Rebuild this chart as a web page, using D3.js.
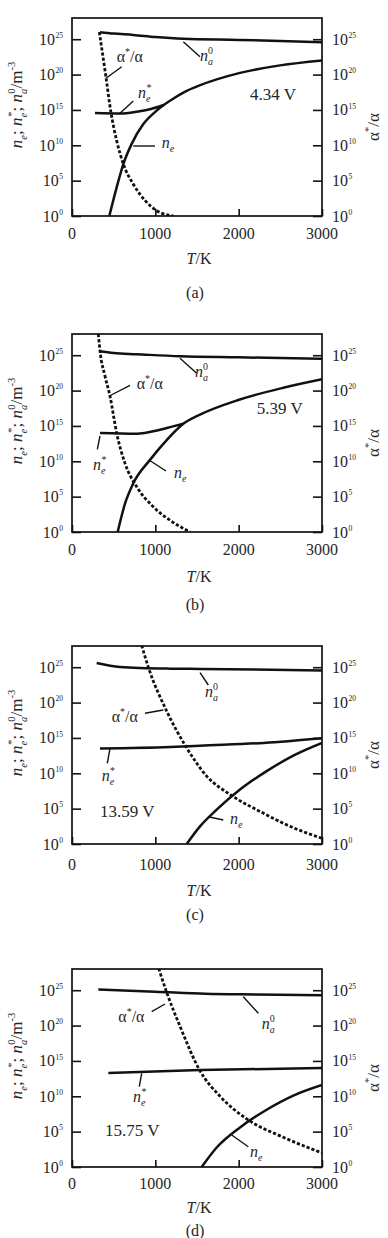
<!DOCTYPE html>
<html>
<head>
<meta charset="utf-8">
<title>n_e, n_e*, n_a0 and alpha*/alpha vs T</title>
<script src="https://cdn.jsdelivr.net/npm/d3@7"></script>
<style>
  html, body { margin: 0; padding: 0; background: #fff; }
  svg { display: block; }
  svg text { font-family: "Liberation Serif", "DejaVu Serif", serif; }
</style>
</head>
<body>
<svg id="chart" width="388" height="1238" font-family="Liberation Serif, DejaVu Serif, serif"></svg>
<script>
// ---- data: T in K, second value is log10 of the quantity ----
var tempTicks = [0, 1000, 2000, 3000];
var decadeTicks = [0, 5, 10, 15, 20, 25];

// (a) 4.34 V
var naA     = [[336, 26.0], [500, 25.8], [736, 25.6], [1000, 25.3], [1336, 25.05], [2000, 24.9], [2500, 24.75], [3000, 24.57]];
var nstarA  = [[276, 14.57], [576, 14.5], [776, 14.75], [936, 15.1], [1100, 15.7]];
var neA     = [[448, 0], [536, 4.05], [616, 7.35], [716, 10.2], [856, 13.0], [1016, 14.9], [1100, 15.7], [1176, 16.3], [1376, 17.7], [1516, 18.4], [2004, 20.2], [2496, 21.3], [3000, 22.0]];
var alphaA  = [[328, 26.0], [408, 19.6], [464, 14.9], [536, 10.65], [616, 7.35], [736, 4.5], [876, 2.2], [1016, 0.75], [1216, 0]];

// (b) 5.39 V
var naB     = [[328, 25.55], [500, 25.3], [776, 25.14], [1296, 24.85], [2000, 24.7], [3000, 24.5]];
var nstarB  = [[336, 14.0], [776, 13.9], [1056, 14.47], [1200, 14.9], [1336, 15.3]];
var neB     = [[548, 0], [636, 4.0], [736, 6.9], [936, 10.2], [1136, 13.0], [1336, 15.3], [1536, 16.6], [2004, 18.7], [2536, 20.4], [3000, 21.6]];
var alphaB  = [[316, 28.0], [336, 25.6], [396, 22.05], [456, 19.2], [536, 14.0], [636, 9.7], [776, 6.4], [976, 3.56], [1176, 1.66], [1416, 0]];

// (c) 13.59 V
var naC     = [[296, 25.6], [576, 25.04], [1176, 24.8], [1536, 24.76], [3000, 24.55]];
var nstarC  = [[336, 13.5], [1176, 13.7], [1536, 13.9], [2300, 14.3], [3000, 14.96]];
var neC     = [[1376, 0], [1536, 2.5], [1736, 4.86], [2016, 7.7], [2336, 10.3], [2656, 12.5], [3000, 14.3]];
var alphaC  = [[836, 28.1], [916, 25.0], [1136, 18.8], [1376, 13.6], [1616, 9.6], [1896, 7.0], [2256, 4.6], [2616, 2.5], [3000, 0.8]];

// (d) 15.75 V
var naD     = [[316, 25.1], [1000, 24.8], [1600, 24.5], [2200, 24.4], [3000, 24.3]];
var nstarD  = [[436, 13.3], [1536, 13.7], [3000, 14.0]];
var neD     = [[1556, 0], [1736, 2.76], [2016, 5.6], [2336, 8.1], [2656, 10.1], [3000, 11.6]];
var alphaD  = [[1040, 28.1], [1136, 24.7], [1296, 19.9], [1536, 13.6], [1776, 10.0], [2096, 6.8], [2536, 4.2], [3000, 2.0]];

// ---- layout ----
var LEFT = 72, W = 250, H = 198;
var INK = "#111", TXT = "#262626";

var panels = [
  { top: 18,  tag: "(a)", volts: "4.34 V",  na: naA, nstar: nstarA, ne: neA, alpha: alphaA,
    tickDy: 17, titleDy: 42, tagDy: 76,
    lab: { alpha: [44.7, 43.7], alphaL: [49.7, 48.7, 34, 60.3],
           nstar: [66, 79.7],   nstarL: [61.3, 83, 48, 95.3],
           ne: [89.7, 130],     neL: [61.3, 128, 83, 128],
           na: [128, 42.7],     naL: [111.3, 23.7, 128, 38.7],
           volts: [178, 82] } },
  { top: 334, tag: "(b)", volts: "5.39 V",  na: naB, nstar: nstarB, ne: neB, alpha: alphaB,
    tickDy: 17, titleDy: 44, tagDy: 72,
    lab: { alpha: [64.7, 55], alphaL: [58, 51.3, 37.3, 62],
           nstar: [21, 136],    nstarL: [28, 102, 25.3, 115.3],
           ne: [102, 144],      neL: [77, 126, 94, 137],
           na: [123, 42.7],     naL: [108, 24.3, 124.7, 39.3],
           volts: [184.7, 80] } },
  { top: 646, tag: "(c)", volts: "13.59 V", na: naC, nstar: nstarC, ne: neC, alpha: alphaC,
    tickDy: 20, titleDy: 46, tagDy: 70,
    lab: { alpha: [39.7, 75.7], alphaL: [73, 67.3, 91.3, 64],
           nstar: [29.7, 135],  nstarL: [38, 102.3, 35.3, 117.3],
           ne: [158, 178],      neL: [136.3, 170.7, 151.3, 174],
           na: [133, 51],       naL: [128, 26.7, 136.3, 39],
           volts: [28, 170.7] } },
  { top: 969, tag: "(d)", volts: "15.75 V", na: naD, nstar: nstarD, ne: neD, alpha: alphaD,
    tickDy: 16, titleDy: 40, tagDy: 63,
    lab: { alpha: [46.3, 52.7], alphaL: [79.7, 42.7, 93, 35],
           nstar: [61, 133],    nstarL: [69.7, 104.3, 67.3, 117.7],
           ne: [178, 187.7],    neL: [159.7, 166, 176.3, 177.7],
           na: [189.7, 60],     naL: [171.3, 27.7, 186.3, 44.3],
           volts: [33, 166.7] } }
];

var x = d3.scaleLinear().domain([0, 3000]).range([0, W]);
var y = d3.scaleLog().domain([1, 1e28]).range([H, 0]);

var line = d3.line()
  .x(function(d) { return x(d[0]); })
  .y(function(d) { return y(Math.pow(10, d[1])); })
  .curve(d3.curveMonotoneX);

var svg = d3.select("#chart");

// writes a run of tspans; parts: [text, kind, dx]
// kind: "" plain, "i" italic, "sub"/"isub" subscript, "sup" superscript, "tsup" small tick exponent
function rich(sel, parts, size) {
  var off = 0;
  parts.forEach(function(p) {
    var kind = p[1] || "";
    var target = 0, fs = size;
    if (kind.indexOf("sub") >= 0) { target = size * 0.28; fs = size * 0.62; }
    if (kind === "sup") { target = -size * 0.42; fs = size * 0.62; }
    if (kind === "tsup") { target = -size * 0.42; fs = size * 0.47; }
    var t = sel.append("tspan")
      .attr("dy", target - off)
      .attr("font-size", fs)
      .text(p[0]);
    if (kind.charAt(0) === "i") t.attr("font-style", "italic");
    if (p[2] != null) t.attr("dx", p[2]);
    off = target;
  });
}

panels.forEach(function(P) {
  var g = svg.append("g").attr("transform", "translate(" + LEFT + "," + P.top + ")");
  var clipId = "clip" + P.tag.charAt(1);
  g.append("clipPath").attr("id", clipId)
    .append("rect").attr("width", W).attr("height", H);

  // inward ticks
  var tv = decadeTicks.map(function(e) { return Math.pow(10, e); });
  var la = g.append("g").call(d3.axisLeft(y).tickValues(tv).tickSize(-9).tickFormat(""));
  var ra = g.append("g").attr("transform", "translate(" + W + ",0)")
    .call(d3.axisRight(y).tickValues(tv).tickSize(-9).tickFormat(""));
  var ba = g.append("g").attr("transform", "translate(0," + H + ")")
    .call(d3.axisBottom(x).tickValues(tempTicks).tickSize(-7).tickFormat(""));
  [la, ra, ba].forEach(function(a) {
    a.select(".domain").remove();
    a.selectAll("line").attr("stroke", INK).attr("stroke-width", 1.6);
  });

  // curves
  var curves = g.append("g").attr("clip-path", "url(#" + clipId + ")")
    .attr("fill", "none").attr("stroke", INK);
  curves.append("path").attr("d", line(P.na)).attr("stroke-width", 2.5);
  curves.append("path").attr("d", line(P.nstar)).attr("stroke-width", 2.5);
  curves.append("path").attr("d", line(P.ne)).attr("stroke-width", 2.5);
  curves.append("path").attr("d", line(P.alpha)).attr("stroke-width", 2.8)
    .attr("stroke-dasharray", "3.2,2");

  // frame
  g.append("rect").attr("width", W).attr("height", H)
    .attr("fill", "none").attr("stroke", INK).attr("stroke-width", 1.7);

  // tick labels
  decadeTicks.forEach(function(e) {
    var yy = y(Math.pow(10, e));
    var tl = g.append("text").attr("x", -9).attr("y", yy + 5.5)
      .attr("text-anchor", "end").attr("fill", TXT).attr("font-size", 16);
    rich(tl, [["10", ""], [String(e), "tsup", 0.5]], 16);
    var tr = g.append("text").attr("x", W + 10).attr("y", yy + 5.5)
      .attr("fill", TXT).attr("font-size", 16);
    rich(tr, [["10", ""], [String(e), "tsup", 0.5]], 16);
  });
  tempTicks.forEach(function(t) {
    g.append("text").attr("x", x(t)).attr("y", H + P.tickDy + 5.5)
      .attr("text-anchor", "middle").attr("fill", TXT).attr("font-size", 16)
      .text(t);
  });

  // axis titles
  var tx = g.append("text").attr("x", W / 2 + 2).attr("y", H + P.titleDy + 5.5)
    .attr("text-anchor", "middle").attr("fill", TXT).attr("font-size", 16);
  rich(tx, [["T", "i"], ["/K", ""]], 16);

  var tl = g.append("text")
    .attr("transform", "translate(" + (17 - LEFT + 5) + "," + (H / 2 - 12) + ") rotate(-90)")
    .attr("text-anchor", "middle").attr("fill", TXT).attr("font-size", 17);
  rich(tl, [["n", "i"], ["e", "isub"], ["; ", ""], ["n", "i"], ["e", "isub"], ["*", "sup", -4],
            ["; ", ""], ["n", "i"], ["a", "isub"], ["0", "sup", -5], ["/m", ""], ["-3", "sup"]], 17);

  var tr2 = g.append("text")
    .attr("transform", "translate(" + (374 - LEFT + 5) + "," + (H / 2 + 10) + ") rotate(-90)")
    .attr("text-anchor", "middle").attr("fill", TXT).attr("font-size", 17);
  rich(tr2, [["α", ""], ["*", "sup"], ["/α", ""]], 17);

  g.append("text").attr("x", W / 2 - 2).attr("y", H + P.tagDy + 5.5)
    .attr("text-anchor", "middle").attr("fill", TXT).attr("font-size", 16)
    .text(P.tag);

  // curve annotations
  var L = P.lab;
  [L.alphaL, L.nstarL, L.neL, L.naL].forEach(function(s) {
    g.append("line").attr("x1", s[0]).attr("y1", s[1]).attr("x2", s[2]).attr("y2", s[3])
      .attr("stroke", INK).attr("stroke-width", 1.4);
  });
  var a1 = g.append("text").attr("x", L.alpha[0]).attr("y", L.alpha[1]).attr("fill", TXT).attr("font-size", 16);
  rich(a1, [["α", ""], ["*", "sup"], ["/α", ""]], 16);
  var a2 = g.append("text").attr("x", L.nstar[0]).attr("y", L.nstar[1]).attr("fill", TXT).attr("font-size", 16);
  rich(a2, [["n", "i"], ["e", "isub"], ["*", "sup", -4]], 16);
  var a3 = g.append("text").attr("x", L.ne[0]).attr("y", L.ne[1]).attr("fill", TXT).attr("font-size", 16);
  rich(a3, [["n", "i"], ["e", "isub"]], 16);
  var a4 = g.append("text").attr("x", L.na[0]).attr("y", L.na[1]).attr("fill", TXT).attr("font-size", 16);
  rich(a4, [["n", "i"], ["a", "isub"], ["0", "sup", -5]], 16);
  g.append("text").attr("x", L.volts[0]).attr("y", L.volts[1]).attr("fill", TXT)
    .attr("font-size", 17).text(P.volts);
});
</script>
</body>
</html>
